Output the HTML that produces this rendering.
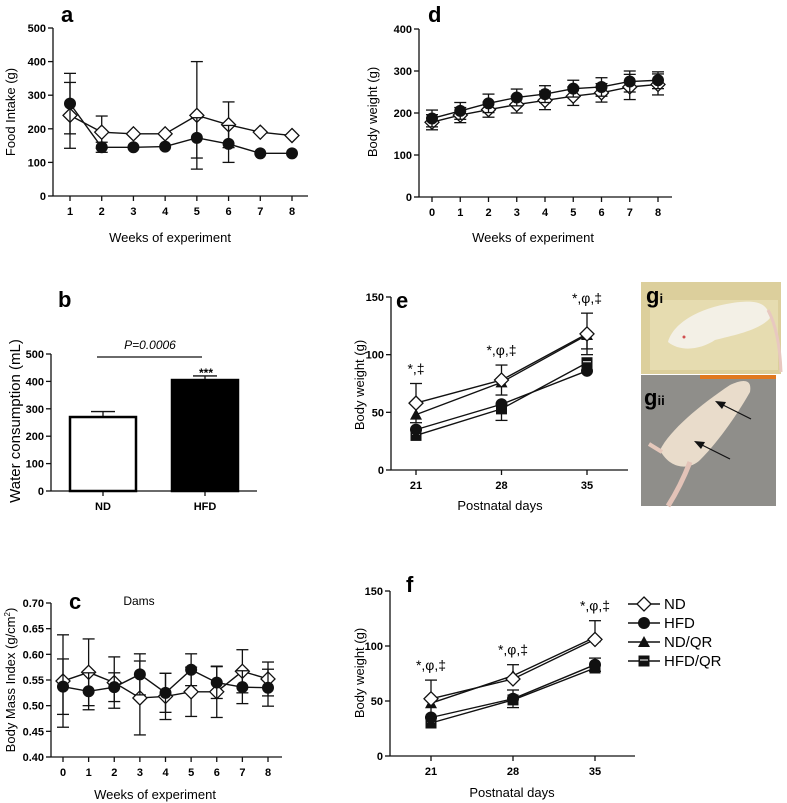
<!DOCTYPE html>
<html><head><meta charset="utf-8">
<style>
html,body{margin:0;padding:0;background:#fff;}
svg{display:block;font-family:"Liberation Sans",Arial,sans-serif;}
.tk{font-size:11px;font-weight:bold;}
.tt{font-size:13px;}
.pl{font-size:22px;font-weight:bold;}
</style></head>
<body>
<svg id="fig" width="787" height="803" viewBox="0 0 787 803" xmlns="http://www.w3.org/2000/svg">
<g id="photos">
  <g>
    <rect x="641" y="282" width="140" height="92" fill="#dccf9c"/>
    <rect x="650" y="300" width="128" height="70" fill="#e6dcb0"/>
    <path d="M668 342 C675 318 710 305 740 302 C760 300 768 305 770 318 C760 330 735 335 715 340 C700 350 680 352 668 342Z" fill="#f3f0e6"/>
    <path d="M768 310 C776 325 780 345 781 372" stroke="#e8c8c0" stroke-width="3" fill="none"/>
    <circle cx="684" cy="337" r="1.5" fill="#d05050"/>
    <text x="646" y="303" font-size="22" font-weight="bold">g<tspan font-size="13">i</tspan></text>
  </g>
  <g>
    <rect x="641" y="375" width="135" height="131" fill="#8f8e8a"/>
    <rect x="700" y="375" width="76" height="4" fill="#e07820"/>
    <path d="M660 450 C670 430 700 405 730 385 C745 378 752 380 750 392 C740 410 720 440 700 460 C690 470 670 470 660 450Z" fill="#e9dccb"/>
    <path d="M690 462 C683 480 675 495 668 506" stroke="#e3c3b8" stroke-width="5" fill="none"/>
    <path d="M649 444 L662 452" stroke="#e5c8bb" stroke-width="4"/>
    <text x="644" y="405" font-size="22" font-weight="bold">g<tspan font-size="13">ii</tspan></text>
    <line x1="751" y1="419" x2="721" y2="404" stroke="#111" stroke-width="1.2"/>
    <polygon points="715,401 726,402 722,409" fill="#111"/>
    <line x1="730" y1="459" x2="700" y2="444" stroke="#111" stroke-width="1.2"/>
    <polygon points="694,441 705,442 701,449" fill="#111"/>
  </g>
</g>
</svg>
<script>
// ---------- Panel a data ----------
const aWeeks = [1,2,3,4,5,6,7,8];
const aND = [240,190,185,185,240,212,190,180];
const aNDerr = [98,48,0,0,160,68,0,0];
const aHFD = [275,145,145,147,173,155,127,127];
const aHFDerr = [90,15,0,0,60,55,0,0];
const aYTicks = [0,100,200,300,400,500];
// ---------- Panel d data ----------
const dWeeks = [0,1,2,3,4,5,6,7,8];
const dND = [178,195,208,220,230,240,248,262,268];
const dNDerr = [18,18,18,20,22,22,22,30,25];
const dHFD = [187,205,223,237,245,258,262,275,278];
const dHFDerr = [20,20,22,20,20,20,22,25,20];
const dYTicks = [0,100,200,300,400];
// ---------- Panel b data ----------
const bGroups = ['ND','HFD'];
const bValues = [270,405];
const bErr = [20,15];
const bYTicks = [0,100,200,300,400,500];
// ---------- Panel c data ----------
const cWeeks = [0,1,2,3,4,5,6,7,8];
const cND = [0.548,0.565,0.545,0.515,0.518,0.527,0.527,0.567,0.552];
const cNDerr = [0.090,0.065,0.050,0.072,0.045,0.048,0.050,0.042,0.033];
const cHFD = [0.537,0.528,0.536,0.561,0.525,0.570,0.545,0.536,0.535];
const cHFDerr = [0.054,0.036,0.028,0.040,0.038,0.031,0.031,0.032,0.036];
const cYTicks = [0.40,0.45,0.50,0.55,0.60,0.65,0.70];
// ---------- Panel e data ----------
const eDays = [21,28,35];
const eND = [58,78,118];
const eNDerr = [17,13,18];
const eHFD = [35,57,86];
const eNDQR = [48,76,117];
const eNDQRerr = [0,0,-12];
const eHFDQR = [30,53,93];
const eHFDQRerr = [0,-10,0];
const eYTicks = [0,50,100,150];
const eNotes = ['*,‡','*,φ,‡','*,φ,‡'];
// ---------- Panel f data ----------
const fDays = [21,28,35];
const fND = [52,70,106];
const fNDerr = [17,0,0];
const fHFD = [35,52,83];
const fHFDerr = [0,8,6];
const fNDQR = [48,73,108];
const fNDQRerr = [0,10,15];
const fHFDQR = [30,51,80];
const fYTicks = [0,50,100,150];
const fNotes = ['*,φ,‡','*,φ,‡','*,φ,‡'];
const legendLabels = ['ND','HFD','ND/QR','HFD/QR'];

const NS='http://www.w3.org/2000/svg';
const svg=document.getElementById('fig');
function mk(tag,attrs,parent){const e=document.createElementNS(NS,tag);for(const k in attrs)e.setAttribute(k,attrs[k]);(parent||svg).appendChild(e);return e;}
function txt(s,attrs,parent){const e=mk('text',attrs,parent);e.textContent=s;return e;}
function lin(a,b,c,d,p,w){return mk('line',{x1:a,y1:b,x2:c,y2:d,stroke:'#111','stroke-width':w||1.3},p);}
function scale(d0,d1,r0,r1){return v=>r0+(v-d0)*(r1-r0)/(d1-d0);}

function marker(type,x,y,p,r){
  r=r||6;let e;
  if(type==='diamond'){e=mk('polygon',{points:`${x},${y-r-1} ${x+r+1},${y} ${x},${y+r+1} ${x-r-1},${y}`,fill:'#fff',stroke:'#111','stroke-width':1.3},p);}
  else if(type==='circle'){e=mk('circle',{cx:x,cy:y,r:r,fill:'#111'},p);}
  else if(type==='triangle'){e=mk('polygon',{points:`${x},${y-r} ${x+r},${y+r-1} ${x-r},${y+r-1}`,fill:'#111'},p);}
  else {e=mk('rect',{x:x-r+0.5,y:y-r+0.5,width:2*r-1,height:2*r-1,fill:'#111'},p);mk('line',{x1:x-r+2,y1:y-1,x2:x+r-2,y2:y-1,stroke:'#fff','stroke-width':1},p);}
  
  
  return e;
}

function axes(p,cfg){
  const g=mk('g',{},p);
  
  
  lin(cfg.ax,cfg.yTop,cfg.ax,cfg.y0,g);
  cfg.yTicks.forEach(v=>{const y=cfg.ys(v);lin(cfg.ax-5,y,cfg.ax,y,g);const t=txt(cfg.fmt?cfg.fmt(v):String(v),{x:cfg.ax-7,y:y+4,'text-anchor':'end',class:'tk','font-size':cfg.tkSize||11},g);});
  const gx=mk('g',{},p);
  
  
  lin(cfg.ax,cfg.y0,cfg.axEnd,cfg.y0,gx);
  cfg.xTicks.forEach((v,i)=>{const x=cfg.xs(v);lin(x,cfg.y0,x,cfg.y0+5,gx);const t=txt(cfg.xLabels?cfg.xLabels[i]:String(v),{x:x,y:cfg.y0+19,'text-anchor':'middle',class:'tk','font-size':cfg.tkSize||11},gx);});
}

function series(p,xs,ys,xv,yv,err,type,name){
  const g=mk('g',{},p);
  
  
  let d='';xv.forEach((x,i)=>{d+=(i?'L':'M')+xs(x)+' '+ys(yv[i]);});
  mk('path',{d:d,fill:'none',stroke:'#111','stroke-width':1.4},g);
  if(err) xv.forEach((x,i)=>{if(!err[i])return;const X=xs(x),Y=ys(yv[i]);
    const y1=ys(yv[i]+Math.abs(err[i])),y2=ys(yv[i]-Math.abs(err[i]));
    const up=err[i]>0;const t1=up?y1:y2;
    lin(X,Y,X,t1,g,1.3);lin(X-6,t1,X+6,t1,g,1.3);
    if(type!=='triangle'&&type!=='square'){lin(X,Y,X,up?y2:y1,g,1.3);lin(X-6,up?y2:y1,X+6,up?y2:y1,g,1.3);}
  });
  xv.forEach((x,i)=>marker(type,xs(x),ys(yv[i]),g));
}

function panelG(name){const g=mk('g',{});return g;}

// ---- Panel a ----
(function(){
  const p=panelG('panel-a-food-intake');
  const xs=scale(1,8,70,292), ys=scale(0,500,196,28);
  axes(p,{ax:53,axEnd:308,y0:196,yTop:28,ys:ys,xs:xs,yTicks:aYTicks,xTicks:aWeeks});
  series(p,xs,ys,aWeeks,aND,aNDerr,'diamond','series-nd');
  series(p,xs,ys,aWeeks,aHFD,aHFDerr,'circle','series-hfd');
  let t=txt('a',{x:61,y:22,class:'pl'},p);
  t=txt('Food Intake (g)',{transform:'translate(15,112) rotate(-90)','text-anchor':'middle',class:'tt'},p);
  t=txt('Weeks of experiment',{x:170,y:242,'text-anchor':'middle',class:'tt'},p);
})();

// ---- Panel d ----
(function(){
  const p=panelG('panel-d-body-weight');
  const xs=scale(0,8,432,658), ys=scale(0,400,197,29);
  axes(p,{ax:419,axEnd:672,y0:197,yTop:29,ys:ys,xs:xs,yTicks:dYTicks,xTicks:dWeeks});
  series(p,xs,ys,dWeeks,dND,dNDerr.map(v=>-v),'diamond','series-nd');
  series(p,xs,ys,dWeeks,dHFD,dHFDerr,'circle','series-hfd');
  let t=txt('d',{x:428,y:22,class:'pl'},p);
  t=txt('Body weight (g)',{transform:'translate(377,112) rotate(-90)','text-anchor':'middle',class:'tt'},p);
  t=txt('Weeks of experiment',{x:533,y:242,'text-anchor':'middle',class:'tt'},p);
})();

// ---- Panel b ----
(function(){
  const p=panelG('panel-b-water-consumption');
  const ys=scale(0,500,491,354);
  const centers=[103,205];
  const xs=i=>centers[i];
  axes(p,{ax:51,axEnd:257,y0:491,yTop:354,ys:ys,xs:xs,yTicks:bYTicks,xTicks:[0,1],xLabels:bGroups,tkSize:9});
  bValues.forEach((v,i)=>{
    const g=mk('g',{},p);
    
    
    const X=centers[i],top=ys(v);
    lin(X,top,X,ys(v+bErr[i]),g);lin(X-12,ys(v+bErr[i]),X+12,ys(v+bErr[i]),g);
    mk('rect',{x:X-33,y:top,width:66,height:491-top,fill:i?'#000':'#fff',stroke:'#000','stroke-width':2.5},g);
  });
  let t=txt('P=0.0006',{x:150,y:349,'text-anchor':'middle','font-size':12,'font-style':'italic'},p);
  const l=lin(97,357,202,357,p);
  t=txt('***',{x:206,y:377,'text-anchor':'middle','font-size':12,'font-weight':'bold'},p);
  t=txt('b',{x:58,y:307,class:'pl'},p);
  t=txt('Water consumption (mL)',{transform:'translate(20,421) rotate(-90)','text-anchor':'middle','font-size':15},p);
})();

// ---- Panel c ----
(function(){
  const p=panelG('panel-c-bmi');
  const xs=scale(0,8,63,268), ys=scale(0.40,0.70,757,603);
  axes(p,{ax:51,axEnd:282,y0:757,yTop:603,ys:ys,xs:xs,yTicks:cYTicks,xTicks:cWeeks,fmt:v=>v.toFixed(2)});
  series(p,xs,ys,cWeeks,cND,cNDerr,'diamond','series-nd');
  series(p,xs,ys,cWeeks,cHFD,cHFDerr,'circle','series-hfd');
  let t=txt('c',{x:69,y:609,class:'pl'},p);
  t=txt('Dams',{x:139,y:605,'text-anchor':'middle','font-size':12},p);
  const yt=txt('',{transform:'translate(15,680) rotate(-90)','text-anchor':'middle',class:'tt'},p);
  yt.innerHTML='Body Mass Index (g/cm<tspan dy="-5" font-size="8">2</tspan><tspan dy="5">)</tspan>';
  
  
  t=txt('Weeks of experiment',{x:155,y:799,'text-anchor':'middle',class:'tt'},p);
})();

// ---- Panel e ----
(function(){
  const p=panelG('panel-e-pup-body-weight');
  const xs=scale(21,35,416,587), ys=scale(0,150,470,297);
  axes(p,{ax:391,axEnd:628,y0:470,yTop:297,ys:ys,xs:xs,yTicks:eYTicks,xTicks:eDays});
  series(p,xs,ys,eDays,eHFDQR,eHFDQRerr,'square','series-hfd-qr');
  series(p,xs,ys,eDays,eHFD,null,'circle','series-hfd');
  series(p,xs,ys,eDays,eNDQR,eNDQRerr,'triangle','series-nd-qr');
  series(p,xs,ys,eDays,eND,eNDerr,'diamond','series-nd');
  eDays.forEach((d,i)=>{const t=txt(eNotes[i],{x:xs(d),y:ys(eND[i]+eNDerr[i])-10,'text-anchor':'middle','font-size':14},p);});
  let t=txt('e',{x:396,y:308,class:'pl'},p);
  t=txt('Body weight (g)',{transform:'translate(364,385) rotate(-90)','text-anchor':'middle',class:'tt'},p);
  t=txt('Postnatal days',{x:500,y:510,'text-anchor':'middle',class:'tt'},p);
})();

// ---- Panel f ----
(function(){
  const p=panelG('panel-f-pup-body-weight');
  const xs=scale(21,35,431,595), ys=scale(0,150,756,591);
  axes(p,{ax:390,axEnd:635,y0:756,yTop:591,ys:ys,xs:xs,yTicks:fYTicks,xTicks:fDays});
  series(p,xs,ys,fDays,fHFDQR,null,'square','series-hfd-qr');
  series(p,xs,ys,fDays,fHFD,fHFDerr,'circle','series-hfd');
  series(p,xs,ys,fDays,fNDQR,fNDQRerr,'triangle','series-nd-qr');
  series(p,xs,ys,fDays,fND,fNDerr,'diamond','series-nd');
  const top=[fND[0]+fNDerr[0],fNDQR[1]+fNDQRerr[1],fNDQR[2]+fNDQRerr[2]];
  fDays.forEach((d,i)=>{const t=txt(fNotes[i],{x:xs(d),y:ys(top[i])-10,'text-anchor':'middle','font-size':14},p);});
  let t=txt('f',{x:406,y:592,class:'pl'},p);
  t=txt('Body weight (g)',{transform:'translate(364,673) rotate(-90)','text-anchor':'middle',class:'tt'},p);
  t=txt('Postnatal days',{x:512,y:797,'text-anchor':'middle',class:'tt'},p);
  const types=['diamond','circle','triangle','square'];
  legendLabels.forEach((lab,i)=>{
    const g=mk('g',{},p);
    
    
    const y=604+i*19;
    lin(628,y,660,y,g,1.4);marker(types[i],644,y,g);
    txt(lab,{x:664,y:y+5,'font-size':15},g);
  });
})();
</script>
</body></html>
